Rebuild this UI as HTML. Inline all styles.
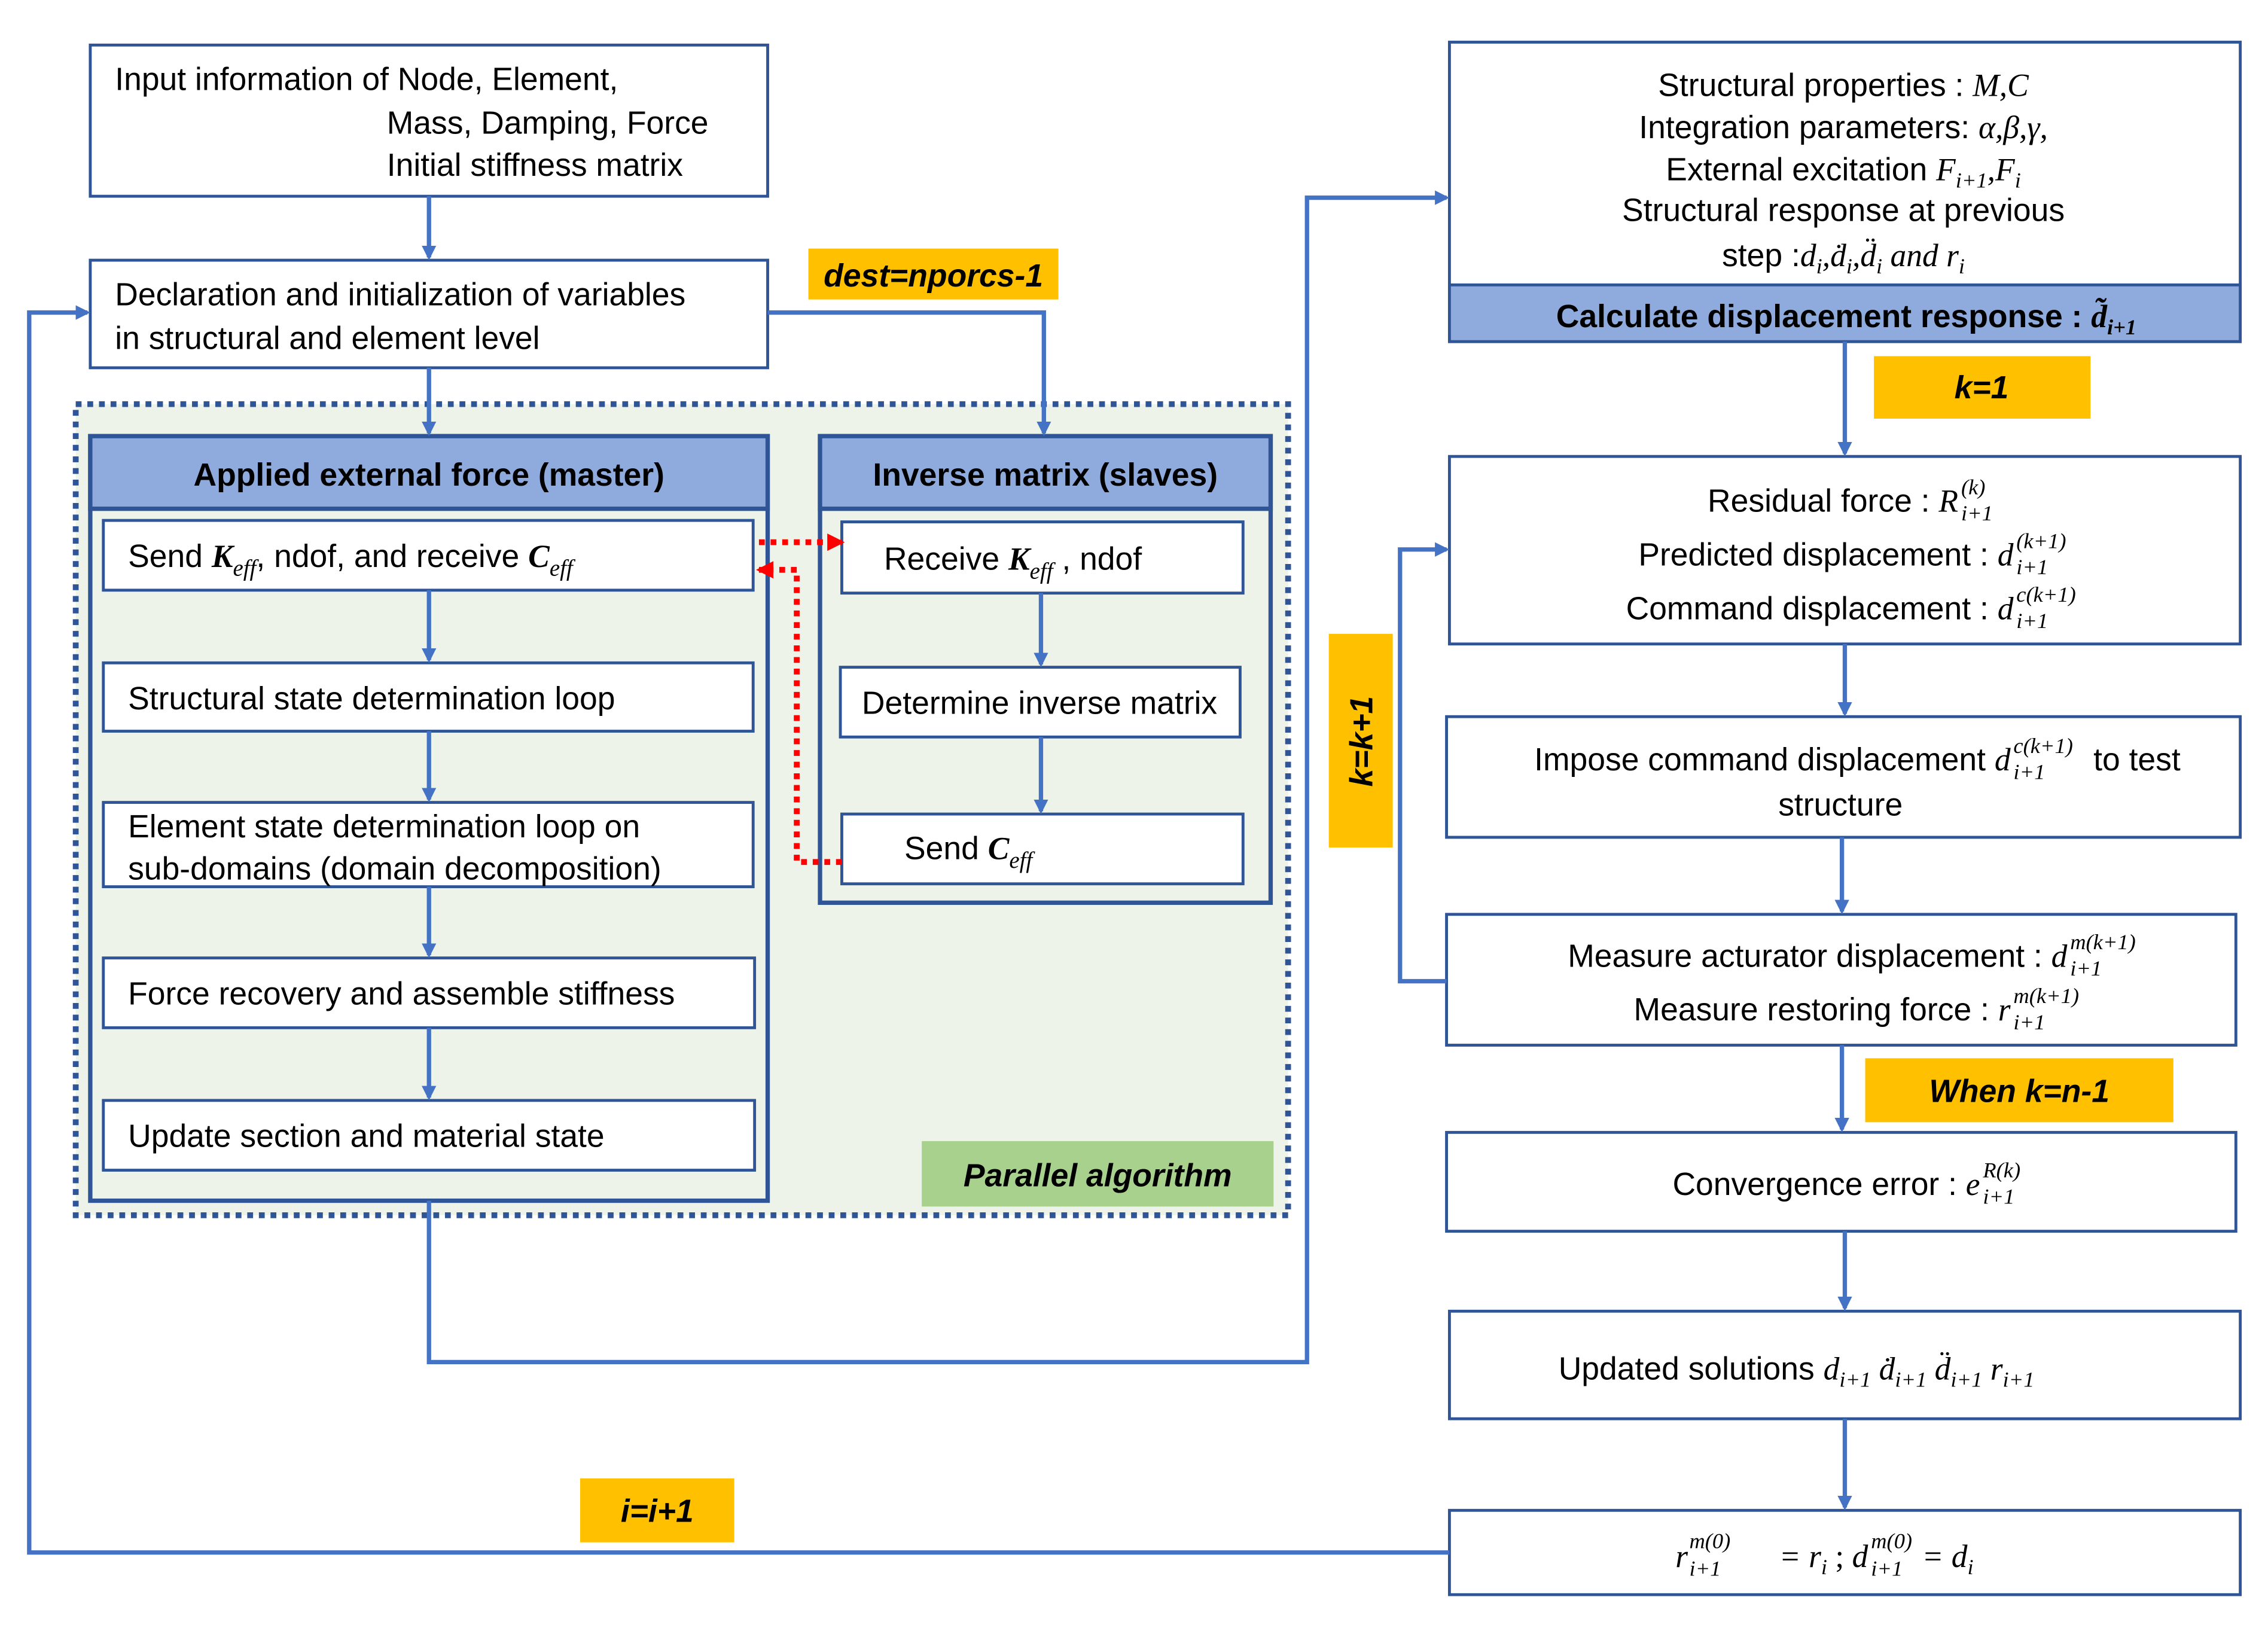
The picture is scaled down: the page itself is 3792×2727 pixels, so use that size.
<!DOCTYPE html>
<html><head><meta charset="utf-8"><style>
html,body{margin:0;padding:0;background:#fff}
svg{display:block}
text{font-family:"Liberation Sans",sans-serif;font-size:22px;fill:#000}
.m{font-family:"Liberation Serif",serif;font-style:italic}
.s{font-family:"Liberation Serif",serif;font-style:italic;font-size:15px}
.b{font-weight:bold}
</style></head><body>
<svg width="3792" height="2727" viewBox="0 0 1560 1122" xmlns="http://www.w3.org/2000/svg">
<defs>
<marker id="a" markerWidth="10" markerHeight="10" refX="8" refY="5" orient="auto" markerUnits="userSpaceOnUse"><path d="M0,0 L10,5 L0,10 z" fill="#4472C4"/></marker>
<marker id="r" markerWidth="12" markerHeight="12" refX="10" refY="6" orient="auto" markerUnits="userSpaceOnUse"><path d="M0,0 L12,6 L0,12 z" fill="#FF0000"/></marker>
</defs>
<rect width="1560" height="1122" fill="#fff"/>
<g fill="#fff" stroke="#2F5597" stroke-width="2">
<rect x="62" y="31" width="466" height="104"/>
<rect x="62" y="179" width="466" height="74"/>
</g>
<text x="79" y="62">Input information of Node, Element,</text>
<text x="266" y="92">Mass, Damping, Force</text>
<text x="266" y="121">Initial stiffness matrix</text>
<text x="79" y="210">Declaration and initialization of variables</text>
<text x="79" y="240">in structural and element level</text>
<rect x="556" y="171" width="172" height="35" fill="#FFC000"/>
<text x="642" y="197" text-anchor="middle" class="b" font-style="italic">dest=nporcs-1</text>
<rect x="52" y="278" width="834" height="558" fill="#EEF3EA" stroke="#2F5597" stroke-width="4" stroke-dasharray="4,4"/>
<rect x="62" y="300" width="466" height="526" fill="#EEF3EA" stroke="#2F5597" stroke-width="3"/>
<rect x="62" y="300" width="466" height="50" fill="#8FAADC" stroke="#2F5597" stroke-width="3"/>
<text x="295" y="334" text-anchor="middle" class="b">Applied external force (master)</text>
<rect x="564" y="300" width="310" height="321" fill="#EEF3EA" stroke="#2F5597" stroke-width="3"/>
<rect x="564" y="300" width="310" height="50" fill="#8FAADC" stroke="#2F5597" stroke-width="3"/>
<text x="719" y="334" text-anchor="middle" class="b">Inverse matrix (slaves)</text>
<g fill="#fff" stroke="#2F5597" stroke-width="2">
<rect x="71" y="358" width="447" height="48"/>
<rect x="71" y="456" width="447" height="47"/>
<rect x="71" y="552" width="447" height="58"/>
<rect x="71" y="659" width="448" height="48"/>
<rect x="71" y="757" width="448" height="48"/>
<rect x="579" y="359" width="276" height="49"/>
<rect x="578" y="459" width="275" height="48"/>
<rect x="579" y="560" width="276" height="48"/>
</g>
<text x="88" y="390">Send <tspan class="m b">K</tspan><tspan class="m" font-size="16" dy="6">eff</tspan><tspan dy="-6">, ndof, and receive </tspan><tspan class="m b">C</tspan><tspan class="m" font-size="16" dy="6">eff</tspan></text>
<text x="88" y="488">Structural state determination loop</text>
<text x="88" y="576">Element state determination loop on</text>
<text x="88" y="605">sub-domains (domain decomposition)</text>
<text x="88" y="691">Force recovery and assemble stiffness</text>
<text x="88" y="789">Update section and material state</text>
<text x="608" y="392">Receive <tspan class="m b">K</tspan><tspan class="m" font-size="16" dy="6">eff</tspan><tspan dy="-6"> , ndof</tspan></text>
<text x="715" y="491" text-anchor="middle">Determine inverse matrix</text>
<text x="622" y="591">Send <tspan class="m b">C</tspan><tspan class="m" font-size="16" dy="6">eff</tspan></text>
<rect x="634" y="785" width="242" height="45" fill="#A9D18E"/>
<text x="755" y="816" text-anchor="middle" class="b" font-style="italic">Parallel algorithm</text>
<g fill="#fff" stroke="#2F5597" stroke-width="2">
<rect x="997" y="29" width="544" height="206"/>
<rect x="997" y="314" width="544" height="129"/>
<rect x="995" y="493" width="546" height="83"/>
<rect x="995" y="629" width="543" height="90"/>
<rect x="995" y="779" width="543" height="68"/>
<rect x="997" y="902" width="544" height="74"/>
<rect x="997" y="1039" width="544" height="58"/>
</g>
<rect x="997" y="196" width="544" height="39" fill="#8FAADC" stroke="#2F5597" stroke-width="2"/>
<text x="1268" y="66" text-anchor="middle">Structural properties : <tspan class="m">M,C</tspan></text>
<text x="1268" y="95" text-anchor="middle">Integration parameters: <tspan class="m">α,β,γ,</tspan></text>
<text x="1268" y="124" text-anchor="middle">External excitation <tspan class="m">F</tspan><tspan class="m" font-size="15" dy="5">i+1</tspan><tspan class="m" dy="-5">,F</tspan><tspan class="m" font-size="15" dy="5">i</tspan></text>
<text x="1268" y="152" text-anchor="middle">Structural response at previous</text>
<text x="1268" y="183" text-anchor="middle">step :<tspan class="m">d<tspan font-size="15" dy="5">i</tspan><tspan dy="-5">,ḋ</tspan><tspan font-size="15" dy="5">i</tspan><tspan dy="-5">,d̈</tspan><tspan font-size="15" dy="5">i</tspan><tspan dy="-5"> and r</tspan><tspan font-size="15" dy="5">i</tspan></tspan></text>
<text x="1270" y="225" text-anchor="middle" class="b">Calculate displacement response : <tspan class="m">d̃</tspan><tspan class="m" font-size="15" dy="5">i+1</tspan></text>
<rect x="1289" y="245" width="149" height="43" fill="#FFC000"/>
<text x="1363" y="274" text-anchor="middle" class="b" font-style="italic">k=1</text>

<text x="1347" y="352" text-anchor="end">Residual force : <tspan class="m">R</tspan></text>
<text x="1349" y="340" class="s">(k)</text><text x="1349" y="358" class="s">i+1</text>
<text x="1385" y="389" text-anchor="end">Predicted displacement : <tspan class="m">d</tspan></text>
<text x="1387" y="377" class="s">(k+1)</text><text x="1387" y="395" class="s">i+1</text>
<text x="1385" y="426" text-anchor="end">Command displacement : <tspan class="m">d</tspan></text>
<text x="1387" y="414" class="s">c(k+1)</text><text x="1387" y="432" class="s">i+1</text>
<text x="1383" y="530" text-anchor="end">Impose command displacement <tspan class="m">d</tspan></text>
<text x="1385" y="518" class="s">c(k+1)</text><text x="1385" y="536" class="s">i+1</text>
<text x="1440" y="530">to test</text>
<text x="1266" y="561" text-anchor="middle">structure</text>
<rect x="914" y="436" width="44" height="147" fill="#FFC000"/>
<text transform="translate(944,510) rotate(-90)" text-anchor="middle" class="b" font-style="italic">k=k+1</text>
<text x="1422" y="665" text-anchor="end">Measure acturator displacement  : <tspan class="m">d</tspan></text>
<text x="1424" y="653" class="s">m(k+1)</text><text x="1424" y="671" class="s">i+1</text>
<text x="1383" y="702" text-anchor="end">Measure restoring force  :  <tspan class="m">r</tspan></text>
<text x="1385" y="690" class="s">m(k+1)</text><text x="1385" y="708" class="s">i+1</text>
<rect x="1283" y="728" width="212" height="44" fill="#FFC000"/>
<text x="1389" y="758" text-anchor="middle" class="b" font-style="italic">When k=n-1</text>
<text x="1362" y="822" text-anchor="end">Convergence error : <tspan class="m">e</tspan></text>
<text x="1364" y="810" class="s">R(k)</text><text x="1364" y="828" class="s">i+1</text>
<text x="1072" y="949">Updated solutions <tspan class="m">d<tspan font-size="15" dy="5">i+1</tspan><tspan dy="-5"> ḋ</tspan><tspan font-size="15" dy="5">i+1</tspan><tspan dy="-5"> d̈</tspan><tspan font-size="15" dy="5">i+1</tspan><tspan dy="-5"> r</tspan><tspan font-size="15" dy="5">i+1</tspan></tspan></text>
<text x="1161" y="1078" text-anchor="end" class="m">r</text>
<text x="1162" y="1065" class="s">m(0)</text><text x="1162" y="1084" class="s">i+1</text>
<text x="1285" y="1078" text-anchor="end" class="m">= r<tspan font-size="15" dy="5">i</tspan><tspan dy="-5" font-style="normal"> ; </tspan>d</text>
<text x="1287" y="1065" class="s">m(0)</text><text x="1287" y="1084" class="s">i+1</text>
<text x="1322" y="1078" class="m">= d<tspan font-size="15" dy="5">i</tspan></text>
<rect x="399" y="1017" width="106" height="44" fill="#FFC000"/>
<text x="452" y="1047" text-anchor="middle" class="b" font-style="italic">i=i+1</text>
<g stroke="#4472C4" stroke-width="3" fill="none" marker-end="url(#a)">
<path d="M295,135 V177"/>
<path d="M295,253 V298"/>
<path d="M528,215 H718 V298"/>
<path d="M295,406 V454"/>
<path d="M295,503 V550"/>
<path d="M295,610 V657"/>
<path d="M295,707 V755"/>
<path d="M716,408 V457"/>
<path d="M716,507 V558"/>
<path d="M295,826 V937 H899 V136 H995"/>
<path d="M997,1068 H20 V215 H60"/>
<path d="M1269,235 V312"/>
<path d="M1269,443 V491"/>
<path d="M1267,576 V627"/>
<path d="M995,675 H963 V378 H995"/>
<path d="M1267,719 V777"/>
<path d="M1269,847 V900"/>
<path d="M1269,976 V1037"/>
</g>
<g stroke="#FF0000" stroke-width="4" fill="none" stroke-dasharray="4,4" marker-end="url(#r)">
<path d="M522,373 H579"/>
<path d="M579,593 H548 V392 H522"/>
</g>
</svg>
</body></html>
